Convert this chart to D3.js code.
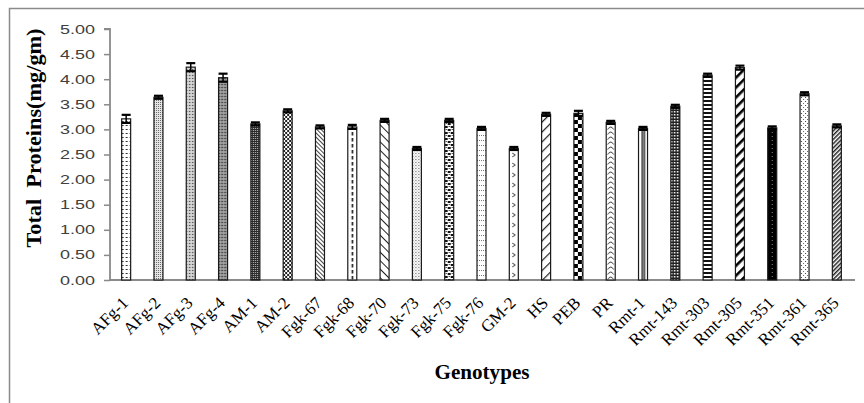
<!DOCTYPE html>
<html>
<head>
<meta charset="utf-8">
<script src="https://cdn.jsdelivr.net/npm/d3@7/dist/d3.min.js"></script>
<style>
  html, body { margin: 0; padding: 0; background: #fff; }
  svg { display: block; }
</style>
</head>
<body>
<svg id="chart" width="864" height="403"></svg>
<script>
// ---- data ----
const genotypes = ["AFg-1","AFg-2","AFg-3","AFg-4","AM-1","AM-2","Fgk-67","Fgk-68","Fgk-70","Fgk-73","Fgk-75","Fgk-76","GM-2","HS","PEB","PR","Rmt-1","Rmt-143","Rmt-303","Rmt-305","Rmt-351","Rmt-361","Rmt-365"];
const proteinMeans = [3.21,3.64,4.24,4.03,3.11,3.37,3.05,3.05,3.18,2.62,3.18,3.02,2.62,3.30,3.32,3.14,3.02,3.46,4.08,4.23,3.03,3.71,3.07];
const proteinErrors = [0.08,0.03,0.08,0.08,0.03,0.03,0.03,0.04,0.03,0.03,0.03,0.03,0.03,0.03,0.05,0.03,0.03,0.03,0.03,0.04,0.03,0.03,0.03];
const yTicks = [0,0.5,1,1.5,2,2.5,3,3.5,4,4.5,5];
const yTitle = "Total  Proteins(mg/gm)";
const xTitle = "Genotypes";

// ---- layout ----
const svg = d3.select("#chart");
const plot = { left: 110, right: 853, top: 29, bottom: 280 };
const barW = 9;

const x = d3.scaleBand().domain(genotypes).range([plot.left, plot.right]).padding(0);
const y = d3.scaleLinear().domain([0, 5]).range([plot.bottom, plot.top]);
const cx = d => x(d) + x.bandwidth() / 2;

// outer chart border (top and left visible)
svg.append("path")
  .attr("d", "M9.5,403 L9.5,8.5 L864,8.5")
  .attr("fill", "none").attr("stroke", "#8a8a8a").attr("stroke-width", 1.5);

// ---- patterns ----
const defs = svg.append("defs");
function pat(i, w, h, bg, ox) {
  const p = defs.append("pattern").attr("id", "p" + i)
    .attr("patternUnits", "userSpaceOnUse")
    .attr("width", w).attr("height", h)
    .attr("x", ox || 0).attr("y", 0);
  p.append("rect").attr("width", w).attr("height", h).attr("fill", bg);
  return p;
}
function r(p, X, Y, W, H, c) { p.append("rect").attr("x", X).attr("y", Y).attr("width", W).attr("height", H).attr("fill", c); }
function diag(i, spacing, lw, color, angle, bg) {
  const p = defs.append("pattern").attr("id", "p" + i)
    .attr("patternUnits", "userSpaceOnUse")
    .attr("width", spacing).attr("height", 10)
    .attr("patternTransform", "rotate(" + angle + ")");
  p.append("rect").attr("width", spacing).attr("height", 10).attr("fill", bg);
  p.append("rect").attr("x", 0).attr("y", 0).attr("width", lw).attr("height", 10).attr("fill", color);
}

function buildPattern(i, bx) {
  let p;
  switch (i) {
    case 0: p = pat(i, 4, 4, "#fff", bx); r(p, 0, 1, 2, 1, "#333"); break;
    case 1: p = pat(i, 2, 2, "#e6e6e6", bx); r(p, 0, 0, 1, 1, "#666"); break;
    case 2: p = pat(i, 3, 3, "#c8c8c8", bx); r(p, 0, 0, 1, 1, "#333"); r(p, 1.5, 1.5, 1, 1, "#fff"); break;
    case 3: p = pat(i, 3, 3, "#8a8a8a", bx); r(p, 0, 0, 1, 1, "#222"); r(p, 1.5, 1.5, 1, 1, "#eee"); break;
    case 4: p = pat(i, 2, 2, "#2a2a2a", bx); r(p, 0, 0, 1, 1, "#bbb"); break;
    case 5: p = pat(i, 4, 4, "#222", bx); r(p, 0, 0, 2, 2, "#fff"); r(p, 2, 2, 2, 2, "#fff"); break;
    case 6: diag(i, 3, 1, "#444", -45, "#fff"); break;
    case 7: p = pat(i, 9, 6, "#fff", bx); r(p, 3.8, 0, 1.6, 3.5, "#111"); break;
    case 8: diag(i, 6, 1, "#222", -45, "#fff"); break;
    case 9: p = pat(i, 3, 3, "#fff", bx); r(p, 0, 0, 1, 1, "#555"); r(p, 1.5, 1.5, 1, 1, "#888"); break;
    case 10: p = pat(i, 6, 6, "#fff", bx); r(p, 0, 0, 3, 2, "#111"); r(p, 3, 3, 3, 2, "#111"); r(p, 1, 3, 1, 1, "#111"); r(p, 4, 0, 1, 1, "#111"); break;
    case 11: p = pat(i, 2, 5, "#fff", bx); r(p, 0, 0, 1, 1, "#777"); break;
    case 12: p = pat(i, 9, 10, "#fff", bx);
      p.append("path").attr("d", "M3,3 L6,5 L3,7").attr("fill", "none").attr("stroke", "#333").attr("stroke-width", 1); break;
    case 13: diag(i, 7, 1.2, "#222", 45, "#fff"); break;
    case 14: p = pat(i, 8, 8, "#fff", bx); r(p, 0, 0, 4, 4, "#000"); r(p, 4, 4, 4, 4, "#000"); break;
    case 15: p = pat(i, 9, 5, "#fff", bx);
      p.append("path").attr("d", "M1.5,4.5 Q4.5,-0.5 7.5,4.5").attr("fill", "none").attr("stroke", "#333").attr("stroke-width", 1); break;
    case 16: p = pat(i, 9, 4, "#fff", bx); r(p, 3, 0, 1.3, 4, "#111"); r(p, 5.2, 0, 1.3, 4, "#111"); break;
    case 17: p = pat(i, 3, 3, "#222", bx); r(p, 0, 0, 1.5, 1.5, "#fff"); break;
    case 18: p = pat(i, 9, 4, "#fff", bx); r(p, 0, 0, 9, 2, "#111"); break;
    case 19: diag(i, 7, 2.6, "#000", 45, "#fff"); break;
    case 20: p = pat(i, 9, 4, "#000", bx); r(p, 4, 0, 1, 1, "#888"); break;
    case 21: p = pat(i, 4, 4, "#fff", bx); r(p, 1, 1, 1, 1, "#444"); r(p, 3, 3, 1, 1, "#666"); break;
    case 22: diag(i, 3, 1.5, "#222", 45, "#fff"); break;
  }
}
genotypes.forEach((g, i) => buildPattern(i, cx(g) - barW / 2));

// ---- axes ----
const yAxis = svg.append("g").attr("transform", `translate(${plot.left},0)`)
  .call(d3.axisLeft(y).tickValues(yTicks).tickSize(6).tickFormat(""));
yAxis.select(".domain").attr("stroke", "#8a8a8a").attr("stroke-width", 1.8)
  .attr("d", `M-6,${y(5)}H0V${y(0)}`);
yAxis.selectAll(".tick line").attr("stroke", "#8a8a8a").attr("stroke-width", 1.5);

svg.append("g").selectAll("text").data(yTicks).join("text")
  .attr("x", 95).attr("y", d => y(d) + 4.5)
  .attr("text-anchor", "end")
  .attr("textLength", 35).attr("lengthAdjust", "spacingAndGlyphs")
  .attr("font-family", "Liberation Sans, Arial, sans-serif")
  .attr("font-size", 12.5).attr("fill", "#404040")
  .text(d3.format(".2f"));

svg.append("line")
  .attr("x1", plot.left - 1).attr("x2", plot.right + 2)
  .attr("y1", y(0)).attr("y2", y(0))
  .attr("stroke", "#8a8a8a").attr("stroke-width", 2);

// x labels (rotated category names)
svg.append("g").selectAll("text").data(genotypes).join("text")
  .attr("transform", d => `translate(${cx(d) + 3},${y(0) + 24}) rotate(-45)`)
  .attr("text-anchor", "end")
  .style("font-family", "'Liberation Serif', 'Times New Roman', serif")
  .style("font-size", "17px").attr("fill", "#000")
  .text(d => d);

// ---- bars ----
svg.append("g").selectAll("rect").data(genotypes).join("rect")
  .attr("x", d => cx(d) - barW / 2)
  .attr("y", (d, i) => y(proteinMeans[i]))
  .attr("width", barW)
  .attr("height", (d, i) => y(0) - y(proteinMeans[i]))
  .attr("fill", (d, i) => `url(#p${i})`)
  .attr("stroke", "#1a1a1a").attr("stroke-width", 1.2);

// ---- error bars ----
const eb = svg.append("g").selectAll("g").data(genotypes).join("g");
eb.append("line")
  .attr("x1", cx).attr("x2", cx)
  .attr("y1", (d, i) => y(proteinMeans[i] + proteinErrors[i]))
  .attr("y2", (d, i) => y(proteinMeans[i] - proteinErrors[i]))
  .attr("stroke", "#000").attr("stroke-width", 1.5);
[1, -1].forEach(s => {
  eb.append("line")
    .attr("x1", d => cx(d) - barW / 2)
    .attr("x2", d => cx(d) + barW / 2)
    .attr("y1", (d, i) => y(proteinMeans[i] + s * proteinErrors[i]))
    .attr("y2", (d, i) => y(proteinMeans[i] + s * proteinErrors[i]))
    .attr("stroke", "#000").attr("stroke-width", 2.2);
});

// ---- titles ----
svg.append("text")
  .attr("transform", `translate(41,138) rotate(-90)`)
  .attr("text-anchor", "middle")
  .style("white-space", "pre")
  .attr("font-family", "Liberation Serif, Times New Roman, serif")
  .attr("font-weight", "bold").attr("font-size", 21)
  .attr("textLength", 219).attr("lengthAdjust", "spacingAndGlyphs")
  .attr("fill", "#000")
  .text(yTitle);

svg.append("text")
  .attr("x", 482).attr("y", 379)
  .attr("text-anchor", "middle")
  .attr("font-family", "Liberation Serif, Times New Roman, serif")
  .attr("font-weight", "bold").attr("font-size", 20)
  .attr("textLength", 95).attr("lengthAdjust", "spacingAndGlyphs")
  .attr("fill", "#000")
  .text(xTitle);
</script>
</body>
</html>
